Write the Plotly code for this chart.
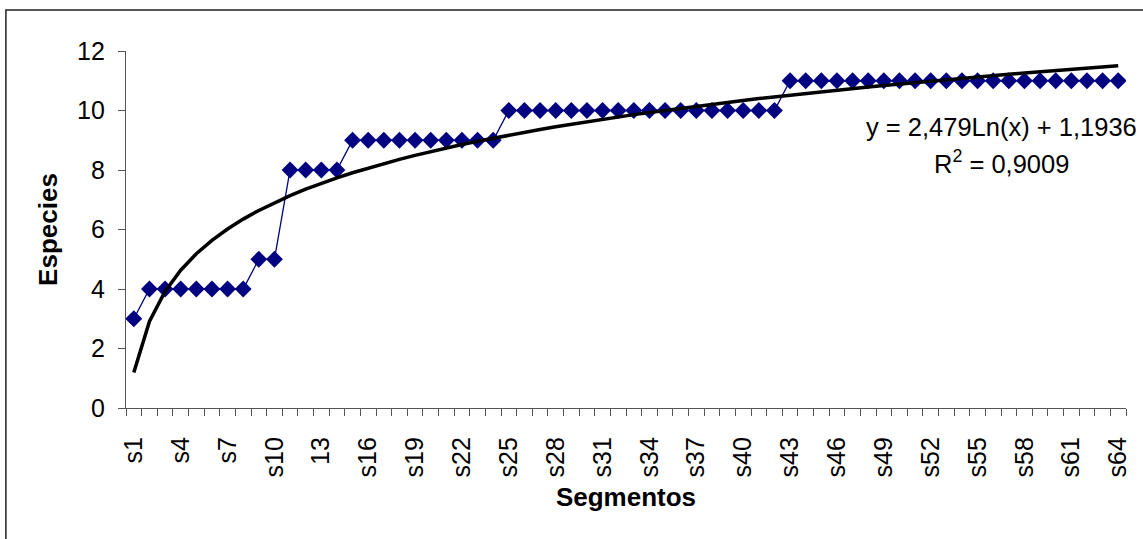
import numpy as np
import plotly.graph_objects as go

# Segment labels and accumulated species count per segment
segmentos = [f"s{i}" for i in range(1, 65)]
especies = [3, 4, 4, 4, 4, 4, 4, 4, 5, 5,
            8, 8, 8, 8, 9, 9, 9, 9, 9, 9,
            9, 9, 9, 9, 10, 10, 10, 10, 10, 10,
            10, 10, 10, 10, 10, 10, 10, 10, 10, 10,
            10, 10, 11, 11, 11, 11, 11, 11, 11, 11,
            11, 11, 11, 11, 11, 11, 11, 11, 11, 11,
            11, 11, 11, 11]

# Logarithmic trend: y = a*ln(x) + b
coef_a = 2.479
coef_b = 1.1936
r2_text = "0,9009"

# Axis tick labels shown every third segment (the 13th shows without prefix)
tick_pos = list(range(1, 65, 3))
tick_text = [segmentos[p - 1] for p in tick_pos]
tick_text[tick_pos.index(13)] = "13"

x_pos = np.arange(1, len(segmentos) + 1)
trend = coef_a * np.log(x_pos) + coef_b

FONT = "Liberation Sans, Arial, sans-serif"

fig = go.Figure()
fig.add_trace(go.Scatter(
    x=x_pos, y=especies, mode="lines+markers",
    line=dict(color="#000080", width=1.3),
    marker=dict(symbol="diamond", size=13, color="#000080"),
    text=segmentos, hoverinfo="text+y", showlegend=False,
))
fig.add_trace(go.Scatter(
    x=x_pos, y=trend, mode="lines",
    line=dict(color="#000000", width=3.5),
    hoverinfo="skip", showlegend=False,
))

fig.update_layout(
    width=1143, height=539,
    margin=dict(l=126, r=14, t=51, b=131),
    plot_bgcolor="white", paper_bgcolor="white",
    font=dict(family=FONT, color="black", size=25),
    xaxis=dict(
        range=[0.5, 64.5], showgrid=False, zeroline=False,
        showline=True, linecolor="#555", linewidth=1.2,
        tickmode="array", tickvals=tick_pos, ticktext=tick_text,
        tickangle=-90, ticks="", ticklabelstandoff=18,
        tickfont=dict(size=25),
        minor=dict(tickmode="array", tickvals=list(np.arange(0.5, 65, 1.0)),
                   ticks="outside", ticklen=7, tickcolor="#555", tickwidth=1.2),
        title=dict(text="<b>Segmentos</b>", font=dict(size=26), standoff=11),
    ),
    yaxis=dict(
        range=[0, 12], showgrid=False, zeroline=False,
        showline=True, linecolor="#555", linewidth=1.2,
        tickvals=[0, 2, 4, 6, 8, 10, 12],
        ticks="outside", ticklen=7, tickcolor="#555", tickwidth=1.2,
        ticklabelstandoff=8,
        tickfont=dict(size=25),
        title=dict(text="<b>Especies</b>", font=dict(size=26), standoff=11),
    ),
    annotations=[
        dict(x=0.875, y=0.786, xref="paper", yref="paper",
             text=f"y = {coef_a:.3f}".replace(".", ",") + "Ln(x) + "
                  + f"{coef_b:.4f}".replace(".", ","),
             showarrow=False, font=dict(size=25.5), xanchor="center", yanchor="middle"),
        dict(x=0.875, y=0.69, xref="paper", yref="paper",
             text=f"R<sup>2</sup> = {r2_text}",
             showarrow=False, font=dict(size=25.5), xanchor="center", yanchor="middle"),
    ],
    shapes=[
        dict(type="rect", xref="paper", yref="paper",
             x0=-0.1201, x1=1.03, y0=-0.45, y1=1.1148,
             line=dict(color="#222", width=1.5), layer="below"),
    ],
)

fig.write_html("out.html")
